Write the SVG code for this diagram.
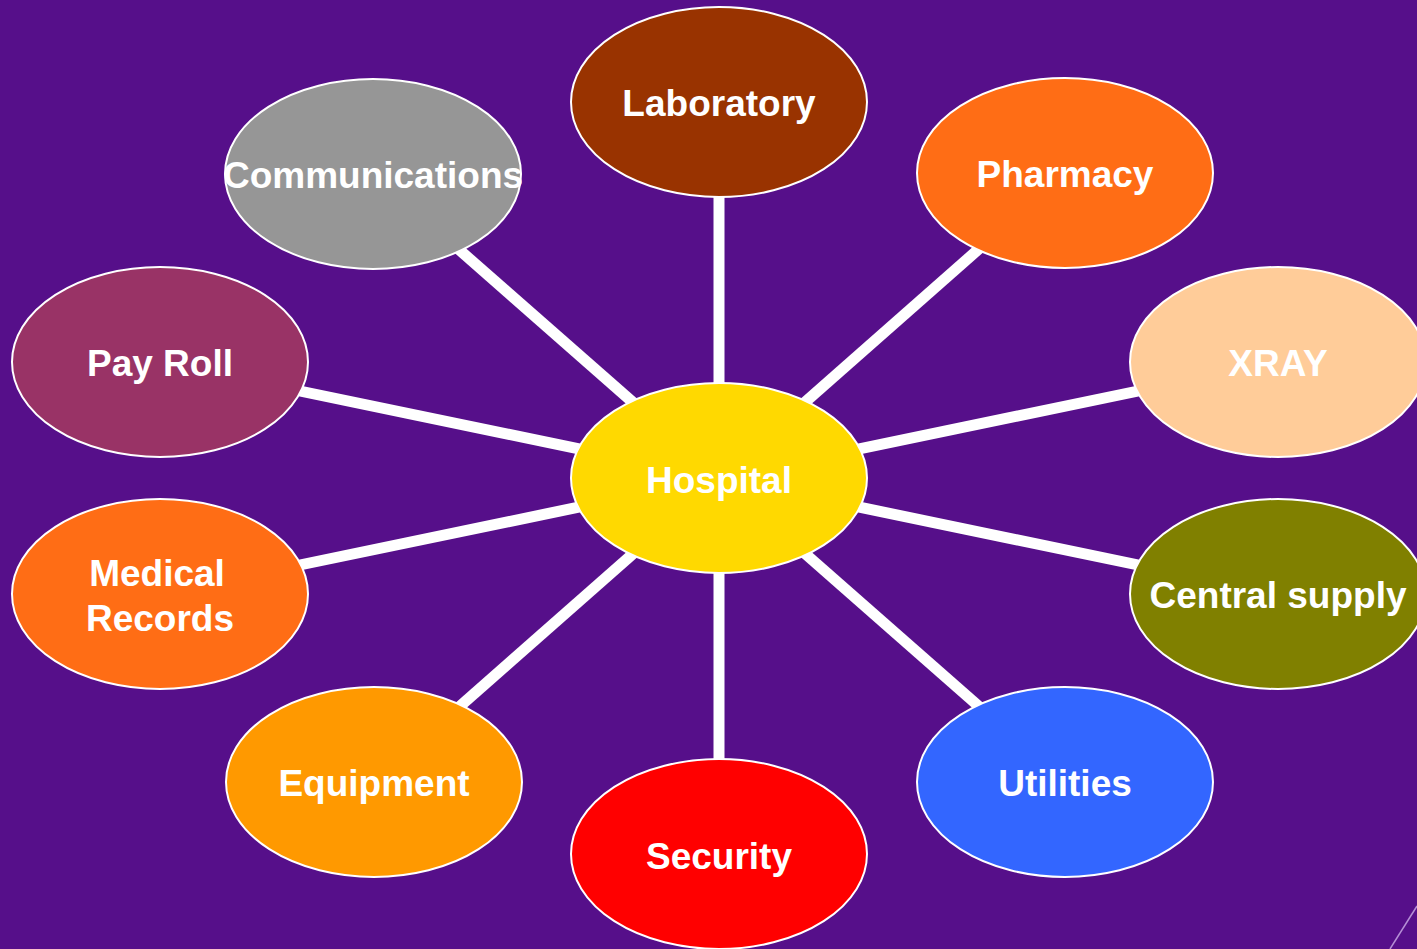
<svg xmlns="http://www.w3.org/2000/svg" width="1417" height="949" viewBox="0 0 1417 949">
  <style>
    .bg { fill: #560F8A; }
    .link { stroke: #FFFFFF; stroke-width: 11; fill: none; }
    .node ellipse { stroke: #FFFFFF; stroke-width: 2; }
    .node text { font-family: "Liberation Sans", Arial, sans-serif; font-weight: bold; font-size: 37px; fill: #FFFFFF; text-anchor: middle; }
  </style>
  <rect class="bg" x="0" y="0" width="1417" height="949"/>
  <line x1="1390" y1="949" x2="1417" y2="906" stroke="#B58FD6" stroke-width="1.5"/>

  <!-- spokes from the hub to each department -->
  <g id="connectors">
    <line class="link" x1="719" y1="478" x2="719" y2="102"/>
    <line class="link" x1="719" y1="478" x2="1065" y2="173"/>
    <line class="link" x1="719" y1="478" x2="1278" y2="362"/>
    <line class="link" x1="719" y1="478" x2="1278" y2="594"/>
    <line class="link" x1="719" y1="478" x2="1065" y2="782"/>
    <line class="link" x1="719" y1="478" x2="719" y2="854"/>
    <line class="link" x1="719" y1="478" x2="374" y2="782"/>
    <line class="link" x1="719" y1="478" x2="160" y2="594"/>
    <line class="link" x1="719" y1="478" x2="160" y2="362"/>
    <line class="link" x1="719" y1="478" x2="373" y2="174"/>
  </g>

  <g id="laboratory" class="node">
    <ellipse cx="719" cy="102" rx="148" ry="95" fill="#993300"/>
    <text x="719" y="116">Laboratory</text>
  </g>
  <g id="pharmacy" class="node">
    <ellipse cx="1065" cy="173" rx="148" ry="95" fill="#FF6D15"/>
    <text x="1065" y="187">Pharmacy</text>
  </g>
  <g id="xray" class="node">
    <ellipse cx="1278" cy="362" rx="148" ry="95" fill="#FFCC99"/>
    <text x="1278" y="376">XRAY</text>
  </g>
  <g id="central-supply" class="node">
    <ellipse cx="1278" cy="594" rx="148" ry="95" fill="#808000"/>
    <text x="1278" y="608">Central supply</text>
  </g>
  <g id="utilities" class="node">
    <ellipse cx="1065" cy="782" rx="148" ry="95" fill="#3366FF"/>
    <text x="1065" y="796">Utilities</text>
  </g>
  <g id="security" class="node">
    <ellipse cx="719" cy="854" rx="148" ry="95" fill="#FF0000"/>
    <text x="719" y="869">Security</text>
  </g>
  <g id="equipment" class="node">
    <ellipse cx="374" cy="782" rx="148" ry="95" fill="#FF9900"/>
    <text x="374" y="796">Equipment</text>
  </g>
  <g id="medical-records" class="node">
    <ellipse cx="160" cy="594" rx="148" ry="95" fill="#FF6D15"/>
    <text x="157" y="586">Medical</text>
    <text x="160" y="631">Records</text>
  </g>
  <g id="pay-roll" class="node">
    <ellipse cx="160" cy="362" rx="148" ry="95" fill="#993366"/>
    <text x="160" y="376">Pay Roll</text>
  </g>
  <g id="communications" class="node">
    <ellipse cx="373" cy="174" rx="148" ry="95" fill="#969696"/>
    <text x="373" y="188">Communications</text>
  </g>
  <g id="hospital" class="node">
    <ellipse cx="719" cy="478" rx="148" ry="95" fill="#FFD900"/>
    <text x="719" y="493">Hospital</text>
  </g>
</svg>
